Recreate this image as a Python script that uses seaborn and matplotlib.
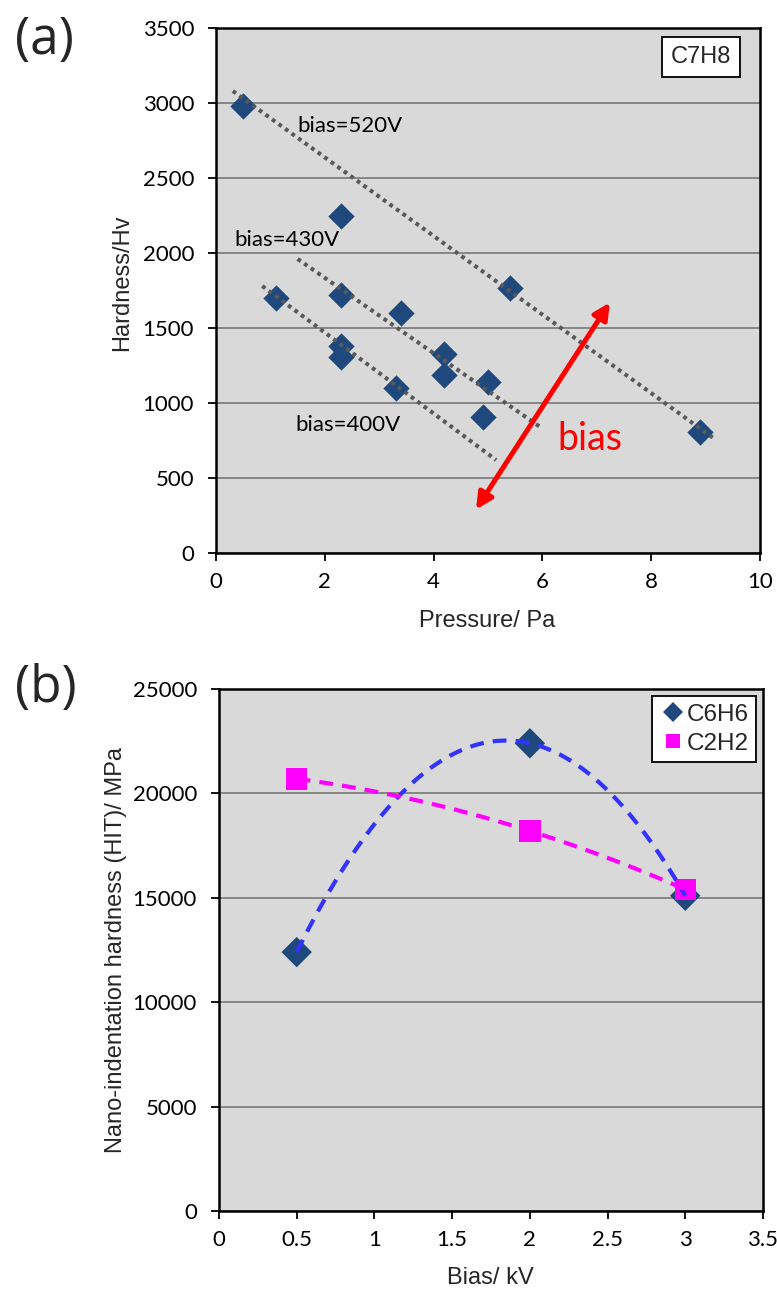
import numpy as np
import pandas as pd
import matplotlib
matplotlib.use("Agg")
import matplotlib.pyplot as plt
import seaborn as sns

# ---------------- data ----------------
# panel (a): hardness vs pressure (C7H8)
pressure = [0.5, 2.3, 5.4, 8.9, 1.1, 2.3, 3.4, 2.3, 2.3, 4.2, 4.2, 5.0, 3.3, 4.9]
hardness = [2980, 2250, 1770, 810, 1700, 1720, 1600, 1380, 1310, 1330, 1190, 1140, 1100, 910]

# linear trend lines (start/end)
trend_names = ["bias=520V", "bias=430V", "bias=400V"]
trend_x0 = [0.31, 1.5, 0.85]
trend_x1 = [9.14, 6.0, 5.15]
trend_y0 = [3080, 1960, 1780]
trend_y1 = [767, 830, 620]
trend_label_x = [1.5, 0.33, 1.45]
trend_label_y = [2850, 2090, 855]

arrow_start = (4.78, 290)
arrow_end = (7.24, 1670)

# panel (b): nano-indentation hardness vs bias
bias_kv = [0.5, 2.0, 3.0]
c6h6 = [12400, 22400, 15100]
c2h2 = [20700, 18200, 15400]

a_xticks = [0, 2, 4, 6, 8, 10]
a_yticks = [0, 500, 1000, 1500, 2000, 2500, 3000, 3500]
b_xticks = [0, 0.5, 1, 1.5, 2, 2.5, 3, 3.5]
b_xticklabels = ["0", "0.5", "1", "1.5", "2", "2.5", "3", "3.5"]
b_yticks = [0, 5000, 10000, 15000, 20000, 25000]

# ---------------- style ----------------
sns.set_theme(style="white")
plt.rcParams["font.family"] = ["Lato", "DejaVu Sans"]
BG = "#D9D9D9"
GRID = "#868686"
NAVY = "#1F497D"
LBL_FONT = ["Liberation Sans", "DejaVu Sans"]
LBL_SIZE = 17

fig = plt.figure(figsize=(7.77, 12.95), dpi=100)
axa = fig.add_axes([216 / 777, 1 - 553 / 1295, 544 / 777, 525 / 1295])
axb = fig.add_axes([219 / 777, 1 - 1211 / 1295, 544 / 777, 522 / 1295])


def style_axes(ax):
    ax.set_facecolor(BG)
    for s in ax.spines.values():
        s.set_color("black")
        s.set_linewidth(1.8)
    ax.yaxis.grid(True, color=GRID, linewidth=1.4)
    ax.xaxis.grid(False)
    ax.set_axisbelow(True)
    ax.tick_params(axis="both", direction="out", length=5.8, width=1.3,
                   color="black", labelsize=16, labelcolor="black",
                   bottom=True, left=True)
    ax.tick_params(axis="y", pad=10)
    ax.tick_params(axis="x", pad=8)


# ---------------- panel (a) ----------------
style_axes(axa)
dfa = pd.DataFrame({"Pressure": pressure, "Hardness": hardness})
sns.scatterplot(data=dfa, x="Pressure", y="Hardness", ax=axa, marker="D",
                s=180, color=NAVY, edgecolor=NAVY, linewidth=0, zorder=3,
                legend=False)

for i, name in enumerate(trend_names):
    dft = pd.DataFrame({"x": [trend_x0[i], trend_x1[i]],
                        "y": [trend_y0[i], trend_y1[i]]})
    sns.lineplot(data=dft, x="x", y="y", ax=axa, color="#595959",
                 linewidth=2.9, linestyle=(0, (0.95, 1.05)), zorder=4,
                 estimator=None, sort=False)
    axa.text(trend_label_x[i], trend_label_y[i], name, fontsize=16,
             ha="left", va="center", color="black", zorder=5)

axa.annotate("", xy=arrow_end, xytext=arrow_start,
             arrowprops=dict(arrowstyle="<|-|>", color="red", lw=3.6,
                             mutation_scale=24, shrinkA=0, shrinkB=0),
             zorder=6)
axa.text(6.87, 760, "bias", color="red", fontsize=27, ha="center",
         va="center", zorder=6)

axa.text(0.8915, 0.9448, "C7H8", transform=axa.transAxes, fontsize=17,
         ha="center", va="center", family=LBL_FONT,
         bbox=dict(boxstyle="square,pad=0.38", facecolor="white",
                   edgecolor="black", linewidth=1.3))

axa.set_xlim(0, 10)
axa.set_ylim(0, 3500)
axa.set_xticks(a_xticks)
axa.set_yticks(a_yticks)
axa.set_xlabel("Pressure/ Pa", fontsize=LBL_SIZE, family=LBL_FONT,
               va="center")
axa.set_ylabel("Hardness/Hv", fontsize=LBL_SIZE, family=LBL_FONT,
               va="center")
axa.xaxis.set_label_coords(0.498, -0.130)
axa.yaxis.set_label_coords(-0.1728, 0.514)

# ---------------- panel (b) ----------------
style_axes(axb)
axb.set_xlim(0, 3.5)
axb.set_ylim(0, 25000)

# order-2 polynomial trendlines (dashed) fitted by seaborn
for vals, col in [(c6h6, "#3333FF"), (c2h2, "#FF00FF")]:
    sns.regplot(x=bias_kv, y=vals, order=2, ci=None, scatter=False,
                truncate=True, ax=axb,
                line_kws=dict(color=col, linewidth=3.0,
                              linestyle=(0, (3.3, 2.2)), zorder=4))

dfb = pd.DataFrame({"Bias": bias_kv * 2,
                    "HIT": c6h6 + c2h2,
                    "Gas": ["C6H6"] * 3 + ["C2H2"] * 3})
sns.scatterplot(data=dfb, x="Bias", y="HIT", hue="Gas", style="Gas",
                markers={"C6H6": "D", "C2H2": "s"},
                palette={"C6H6": NAVY, "C2H2": "#FF00FF"},
                s=240, linewidth=0, ax=axb, zorder=3)

leg = axb.legend(loc="upper right", frameon=True, fancybox=False,
                 prop={"family": LBL_FONT, "size": 17.5},
                 handletextpad=0.0, borderpad=0.3, labelspacing=0.3,
                 handlelength=1.1, borderaxespad=0.3, markerscale=0.65)
leg.get_frame().set_edgecolor("black")
leg.get_frame().set_linewidth(1.3)
leg.get_frame().set_facecolor("white")
leg.get_frame().set_alpha(1)

axb.set_xlim(0, 3.5)
axb.set_ylim(0, 25000)
axb.set_xticks(b_xticks)
axb.set_xticklabels(b_xticklabels)
axb.set_yticks(b_yticks)
axb.set_xlabel("Bias/ kV", fontsize=LBL_SIZE, family=LBL_FONT, va="center")
axb.set_ylabel("Nano-indentation hardness (HIT)/ MPa", fontsize=LBL_SIZE,
               family=LBL_FONT, va="center")
axb.xaxis.set_label_coords(0.498, -0.128)
axb.yaxis.set_label_coords(-0.189, 0.5)

# panel letters
fig.text(44 / 777, 1 - 40 / 1295, "(a)", fontsize=37, ha="center",
         va="center", family=["Open Sans", "DejaVu Sans"])
fig.text(46 / 777, 1 - 688 / 1295, "(b)", fontsize=37, ha="center",
         va="center", family=["Open Sans", "DejaVu Sans"])

fig.savefig("out.png", dpi=100, facecolor="white")
